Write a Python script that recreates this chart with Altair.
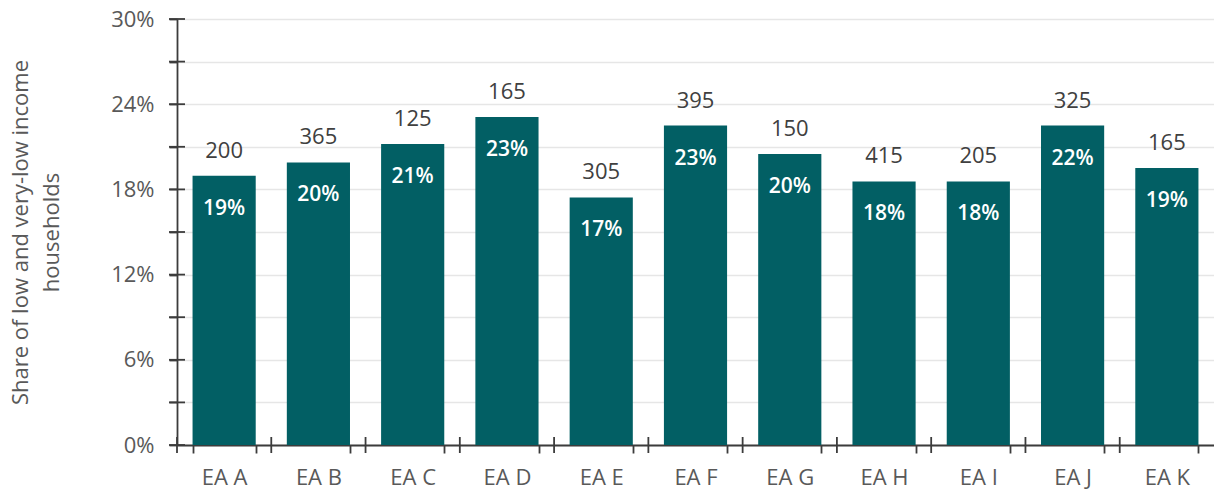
import altair as alt
import pandas as pd

categories = ["EA A", "EA B", "EA C", "EA D", "EA E", "EA F", "EA G", "EA H", "EA I", "EA J", "EA K"]
shares = [18.96, 19.9, 21.2, 23.09, 17.43, 22.5, 20.49, 18.56, 18.56, 22.5, 19.5]
share_labels = ["19%", "20%", "21%", "23%", "17%", "23%", "20%", "18%", "18%", "22%", "19%"]
counts = [200, 365, 125, 165, 305, 395, 150, 415, 205, 325, 165]
y_ticks = [0, 3, 6, 9, 12, 15, 18, 21, 24, 27, 30]
y_title = ["Share of low and very-low income", "households"]

df = pd.DataFrame({
    "category": categories,
    "share": shares,
    "share_label": share_labels,
    "count": counts,
})
ticks_df = pd.DataFrame({"v": y_ticks})

W, H = 1037, 426
FONT = "Open Sans"
TEAL = "#025F64"
AXIS = "#3C3C3C"
LABEL = "#595959"
P_IN, P_OUT = 0.33, 0.165
STEP = W / len(categories)

x_scale = alt.Scale(paddingInner=P_IN, paddingOuter=P_OUT)
y_scale = alt.Scale(domain=[0, 30], nice=False, zero=True)

x_main = alt.Axis(
    title=None, labelAngle=0, labelFont=FONT, labelFontSize=22, labelColor=LABEL,
    labelPadding=14, tickBand="extent", tickSize=8, tickColor=AXIS, tickWidth=1.8,
    domainColor=AXIS, domainWidth=1.8, grid=False,
)
y_main = alt.Axis(
    values=y_ticks, labelExpr="datum.value % 6 == 0 ? datum.value + '%' : ''",
    labelFont=FONT, labelFontSize=22, labelColor=LABEL, labelPadding=15,
    tickSize=8, tickColor=AXIS, tickWidth=1.8, domainColor=AXIS, domainWidth=1.8,
    grid=True, gridColor="#E6E6E6", gridWidth=1.5,
    title=y_title, titleFont=FONT, titleFontSize=22, titleFontWeight="normal",
    titleColor=LABEL, titleAngle=-90, titleX=-167, titleY=H / 2,
    titleAlign="center", titleBaseline="top", titleLineHeight=31,
)

bars = alt.Chart(df).mark_bar(color=TEAL).encode(
    x=alt.X("category:N", sort=categories, scale=x_scale, axis=x_main),
    y=alt.Y("share:Q", scale=y_scale, axis=y_main),
)

# inward half of the crossing axis ticks
y_cross = alt.Chart(ticks_df).mark_tick(
    orient="horizontal", size=16, thickness=1.8, color=AXIS, opacity=1
).encode(
    y=alt.Y("v:Q", scale=y_scale, axis=None),
    x=alt.value(0),
)
x_cross = alt.Chart(df).mark_tick(
    orient="vertical", size=16, thickness=1.8, color=AXIS, opacity=1,
    xOffset=-P_OUT * STEP,
).encode(
    x=alt.X("category:N", sort=categories, scale=x_scale, axis=None, bandPosition=0),
    y=alt.value(H),
)

count_text = alt.Chart(df).mark_text(
    dy=-18, baseline="alphabetic", font=FONT, fontSize=22, color="#404040"
).encode(
    x=alt.X("category:N", sort=categories, scale=x_scale, axis=None),
    y=alt.Y("share:Q", scale=y_scale, axis=None),
    text="count:N",
)

inner_text = alt.Chart(df).mark_text(
    dy=39, baseline="alphabetic", font=FONT, fontSize=21, fontWeight=600, color="white"
).encode(
    x=alt.X("category:N", sort=categories, scale=x_scale, axis=None),
    y=alt.Y("share:Q", scale=y_scale, axis=None),
    text="share_label:N",
)

chart = alt.layer(bars, y_cross, x_cross, count_text, inner_text).resolve_axis(
    x="independent", y="independent"
).properties(
    width=W, height=H,
    autosize=alt.AutoSizeParams(type="none"),
    padding={"left": 177, "top": 19, "right": 0, "bottom": 48},
).configure_view(stroke=None).configure(background="white")

chart.save("out.html", embed_options={"renderer": "svg", "actions": False})
